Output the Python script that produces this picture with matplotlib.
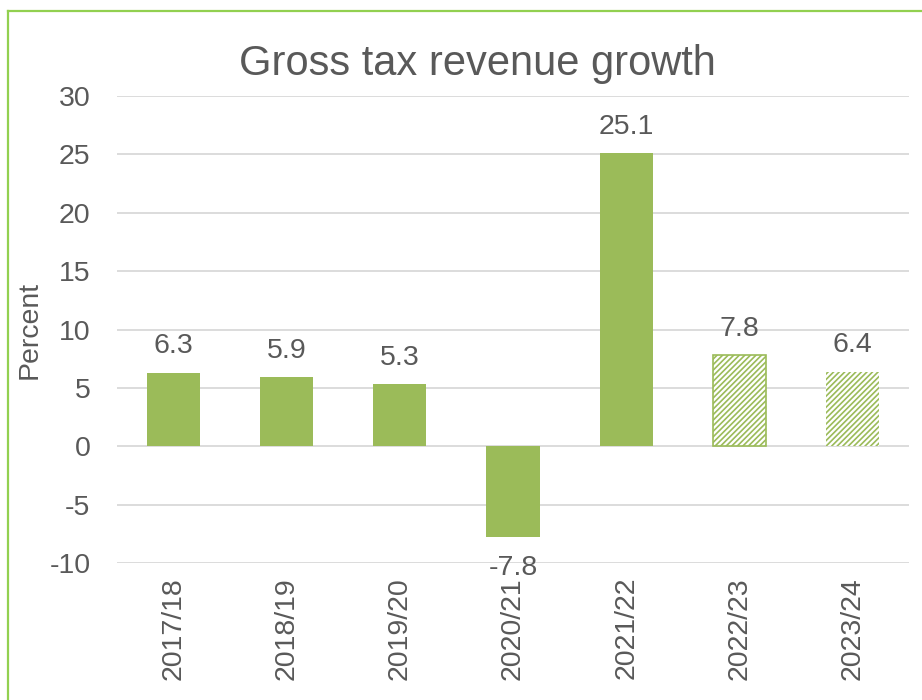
import matplotlib
matplotlib.use("Agg")
import matplotlib.pyplot as plt
from matplotlib.lines import Line2D

plt.rcParams['font.family'] = ['Liberation Sans', 'DejaVu Sans']
plt.rcParams['hatch.linewidth'] = 1.2

categories = ["2017/18", "2018/19", "2019/20", "2020/21", "2021/22", "2022/23", "2023/24"]
values = [6.3, 5.9, 5.3, -7.8, 25.1, 7.8, 6.4]
forecast = [False, False, False, False, False, True, True]
yticks = [-10, -5, 0, 5, 10, 15, 20, 25, 30]

green = "#9BBB59"
text_col = "#595959"
fs = 20.5

fig = plt.figure(figsize=(9.22, 7.0), dpi=100)
ax = fig.add_axes([117/922, 1 - 563/700, (909 - 117)/922, (563 - 96)/700])

x = list(range(len(categories)))
for i, (v, f) in enumerate(zip(values, forecast)):
    if f:
        ax.bar(i, v, width=0.47, facecolor="white", edgecolor=green,
               hatch="//////", linewidth=1.2 if i == 5 else 0, zorder=3)
    else:
        ax.bar(i, v, width=0.47, color=green, zorder=3)
    off = 19 if v >= 0 else -22
    ax.annotate(f"{v:.1f}", (i, v), xytext=(0, off), textcoords="offset points",
                ha="center", va="center", fontsize=fs, color=text_col, zorder=4)

ax.set_xlim(-0.5, len(categories) - 0.5)
ax.set_ylim(-10, 30)
ax.set_yticks(yticks)
ax.set_yticklabels([str(t) for t in yticks], fontsize=fs, color=text_col)
ax.set_xticks(x)
ax.set_xticklabels(categories, rotation=90, fontsize=fs, color=text_col)
ax.tick_params(axis="both", length=0)
ax.tick_params(axis="x", pad=10)
ax.tick_params(axis="y", pad=19)
ax.yaxis.grid(True, color="#D9D9D9", linewidth=1.3, zorder=0)
ax.set_axisbelow(True)
for s in ax.spines.values():
    s.set_visible(False)
ax.set_ylabel("Percent", fontsize=fs, color=text_col, labelpad=5)

fig.text(477/922, 1 - 64/700, "Gross tax revenue growth", ha="center", va="center",
         fontsize=30, color=text_col)

border = "#92D050"
fig.add_artist(Line2D([7.5/922, 7.5/922], [0, 1 - 11/700], color=border, linewidth=1.6, transform=fig.transFigure))
fig.add_artist(Line2D([7.5/922, 1], [1 - 11/700, 1 - 11/700], color=border, linewidth=1.6, transform=fig.transFigure))

fig.savefig("out.png", dpi=100)
